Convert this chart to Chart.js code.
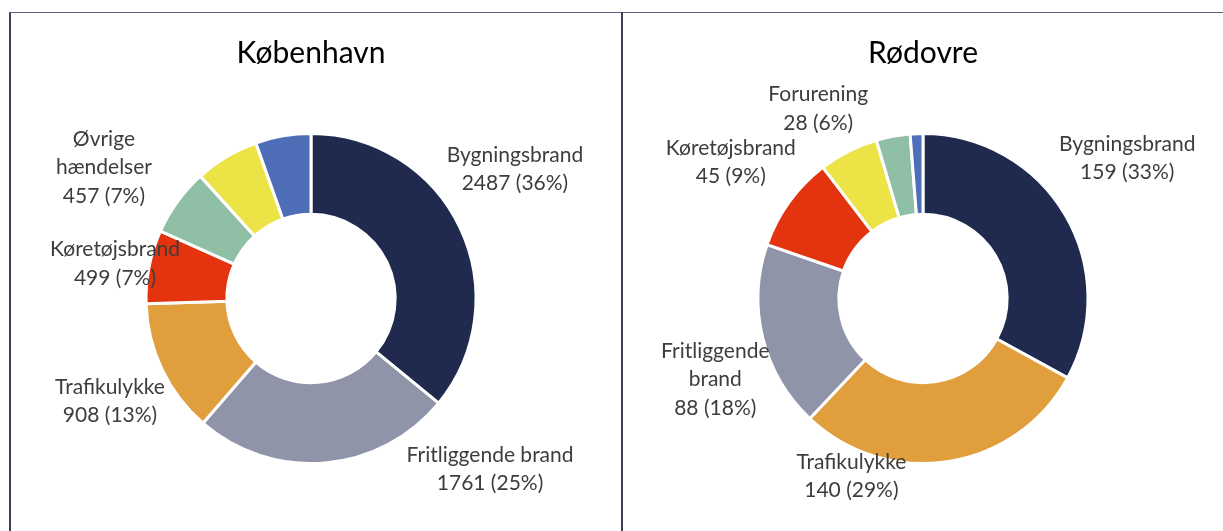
<!DOCTYPE html>
<html lang="da">
<head>
<meta charset="utf-8">
<title>Hændelser – København og Rødovre</title>
<script src="https://cdn.jsdelivr.net/npm/chart.js@4.4.1/dist/chart.umd.min.js"></script>
<style>
  html, body { margin: 0; padding: 0; background: #fff; }
  body { width: 1223px; height: 531px; position: relative; overflow: hidden; }
  .frame {
    position: absolute; left: 9px; top: 12px; width: 1230px; height: 540px;
    border-top: 1px solid #5f6478; border-left: 2px solid #3a3f5c;
  }
  .divider { position: absolute; left: 621px; top: 12px; width: 2px; height: 540px; background: #3a3f5c; }
  canvas { position: absolute; }
  #kbh { left: 11px; top: 13px; }
  #rod { left: 623px; top: 13px; }
</style>
</head>
<body>
<div class="frame"></div>
<div class="divider"></div>
<canvas id="kbh" width="610" height="518"></canvas>
<canvas id="rod" width="600" height="518"></canvas>
<script>
// København – sorteret efter antal
const kbhCategories = ['Bygningsbrand', 'Fritliggende brand', 'Trafikulykke', 'Køretøjsbrand', 'Øvrige hændelser', 'Forurening', ''];
const kbhValues = [2487, 1761, 908, 499, 457, 435, 375];

// Rødovre
const rodCategories = ['Bygningsbrand', 'Trafikulykke', 'Fritliggende brand', 'Køretøjsbrand', 'Forurening', 'Øvrige hændelser', ''];
const rodValues = [159, 140, 88, 45, 28, 16, 6];

// faste farver pr. kategori
const categoryColors = {
  'Bygningsbrand': '#1f2a4e',
  'Fritliggende brand': '#8f94a8',
  'Trafikulykke': '#e09e3c',
  'Køretøjsbrand': '#e3340f',
  'Øvrige hændelser': '#8fc0a6',
  'Forurening': '#ece447',
  '': '#4f6eb8',
};

const FONT = 'Lato, "Open Sans", "Noto Sans", sans-serif';

// dataetiketter: placering i forhold til doughnut-centrum, målt i yderradier
const sliceLabels = {
  id: 'sliceLabels',
  afterDatasetsDraw(chart, args, opts) {
    const ctx = chart.ctx;
    const meta = chart.getDatasetMeta(0);
    const values = chart.data.datasets[0].data;
    const total = values.reduce((a, b) => a + b, 0);
    ctx.save();
    ctx.font = `${opts.size}px ${FONT}`;
    ctx.fillStyle = opts.color;
    ctx.textAlign = 'center';
    ctx.textBaseline = 'middle';
    opts.items.forEach((item) => {
      const arc = meta.data[item.index];
      const { x, y, outerRadius } = arc.getProps(['x', 'y', 'outerRadius'], true);
      const name = chart.data.labels[item.index];
      const value = values[item.index];
      const pct = Math.round((value / total) * 100);
      const lines = item.wrap ? name.split(' ') : [name];
      lines.push(`${value} (${pct}%)`);
      const cx = x + item.dx * outerRadius;
      const cy = y + item.dy * outerRadius;
      const top = cy - ((lines.length - 1) * opts.lineHeight) / 2;
      lines.forEach((line, i) => ctx.fillText(line, cx, top + i * opts.lineHeight));
    });
    ctx.restore();
  },
};

const makeChart = (id, title, categories, values, padLeft, padRight, items) => {
  const canvas = document.getElementById(id);
  return new Chart(canvas, {
    type: 'doughnut',
    data: {
      labels: categories,
      datasets: [
        {
          data: values,
          backgroundColor: categories.map((c) => categoryColors[c]),
          borderColor: '#ffffff',
          borderWidth: 3,
        },
      ],
    },
    options: {
      responsive: false,
      animation: false,
      events: [],
      cutout: '51%',
      layout: { padding: { left: padLeft, right: padRight, top: 0, bottom: 66 } },
      plugins: {
        legend: { display: false },
        tooltip: { enabled: false },
        title: {
          display: true,
          text: title,
          color: '#000000',
          font: { family: FONT, size: 30, weight: 'normal', lineHeight: 1.2 },
          padding: { top: 22, bottom: 61 },
        },
        sliceLabels: { size: 21, lineHeight: 28.5, color: '#3d3d3d', items },
      },
    },
    plugins: [sliceLabels],
  });
};

makeChart('kbh', 'København', kbhCategories, kbhValues, 40, 50, [
  { index: 0, dx: 1.236, dy: -0.782 },
  { index: 1, dx: 1.085, dy: 1.036 },
  { index: 2, dx: -1.218, dy: 0.624 },
  { index: 3, dx: -1.188, dy: -0.212 },
  { index: 4, dx: -1.255, dy: -0.794, wrap: true },
]);

makeChart('rod', 'Rødovre', rodCategories, rodValues, 45, 45, [
  { index: 0, dx: 1.238, dy: -0.850 },
  { index: 1, dx: -0.434, dy: 1.078 },
  { index: 2, dx: -1.259, dy: 0.492, wrap: true },
  { index: 3, dx: -1.165, dy: -0.827 },
  { index: 4, dx: -0.635, dy: -1.149 },
]);
</script>
</body>
</html>
